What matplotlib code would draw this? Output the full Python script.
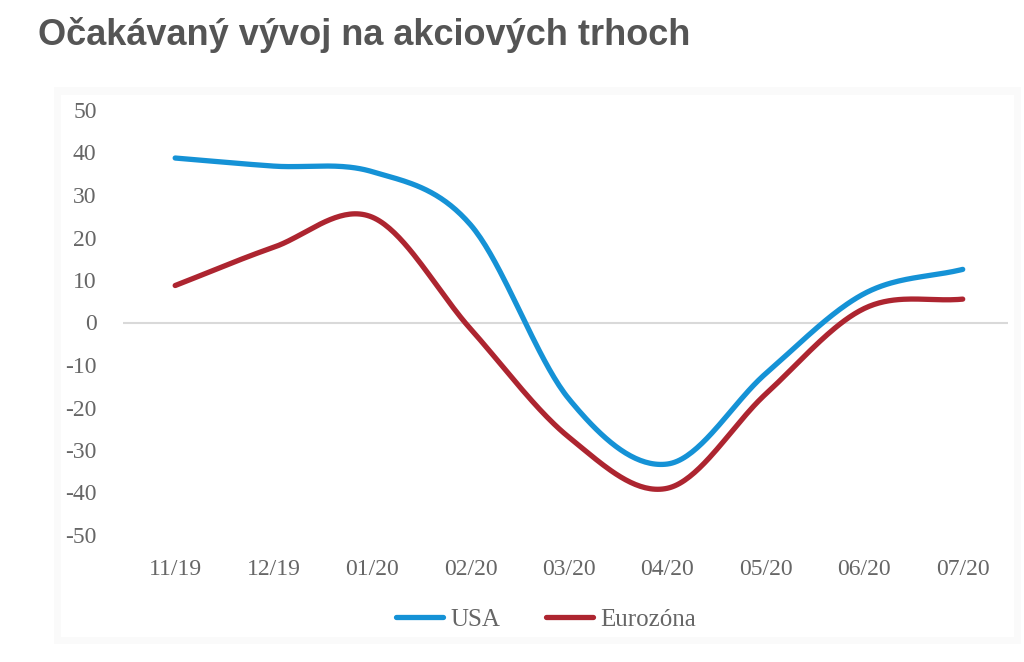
import numpy as np
import matplotlib.pyplot as plt
from matplotlib.patches import Rectangle

plt.rcParams['axes.unicode_minus'] = False

# Data
months = ['11/19', '12/19', '01/20', '02/20', '03/20', '04/20', '05/20', '06/20', '07/20']
usa = [38.7, 36.8, 35.5, 23.0, -18.0, -33.3, -12.0, 6.8, 12.5]
eurozone = [8.7, 17.7, 24.8, -1.5, -27.0, -39.0, -16.8, 3.3, 5.5]

blue = '#1592d6'
red = '#ad2530'
text_gray = '#666666'


def smooth(y, n=40):
    # Catmull-Rom curve through the points, like Excel's smoothed line
    y = np.asarray(y, dtype=float)
    x = np.arange(len(y), dtype=float)
    px = np.concatenate([[2 * x[0] - x[1]], x, [2 * x[-1] - x[-2]]])
    py = np.concatenate([[2 * y[0] - y[1]], y, [2 * y[-1] - y[-2]]])
    xs, ys = [], []
    t = np.linspace(0, 1, n, endpoint=False)
    for i in range(1, len(px) - 2):
        for arr, out in ((px, xs), (py, ys)):
            p0, p1, p2, p3 = arr[i - 1], arr[i], arr[i + 1], arr[i + 2]
            out.append(0.5 * (2 * p1 + (-p0 + p2) * t
                              + (2 * p0 - 5 * p1 + 4 * p2 - p3) * t ** 2
                              + (-p0 + 3 * p1 - 3 * p2 + p3) * t ** 3))
    xs.append([x[-1]])
    ys.append([y[-1]])
    return np.concatenate(xs), np.concatenate(ys)


fig = plt.figure(figsize=(10.24, 6.62), dpi=100)
W, H = 1024, 662

# faint panel behind the chart
fig.patches.append(Rectangle((54 / W, 1 - 644 / H), 967 / W, 557 / H,
                             transform=fig.transFigure, facecolor='#fafafa',
                             edgecolor='none', zorder=-2))
fig.patches.append(Rectangle((61 / W, 1 - 637 / H), 953 / W, 542 / H,
                             transform=fig.transFigure, facecolor='white',
                             edgecolor='none', zorder=-1))

ax = fig.add_axes([123 / W, 1 - 535 / H, 885 / W, 425 / H])
ax.set_zorder(1)
ax.patch.set_alpha(0)

ax.axhline(0, color='#d9d9d9', lw=1.5, zorder=1)
xs, ys = smooth(usa)
ax.plot(xs, ys, color=blue, lw=3.8, solid_capstyle='round', label='USA', zorder=3)
xs, ys = smooth(eurozone)
ax.plot(xs, ys, color=red, lw=3.8, solid_capstyle='round', label='Eurozóna', zorder=2)

ax.set_xlim(-0.53, 8.46)
ax.set_ylim(-50, 50)
ax.set_yticks(range(-50, 51, 10))
ax.set_xticks(range(len(months)))
ax.set_xticklabels(months)
for s in ax.spines.values():
    s.set_visible(False)
ax.tick_params(length=0, labelsize=17, labelcolor=text_gray)
ax.tick_params(axis='y', pad=19)
ax.tick_params(axis='x', pad=17)
for lab in ax.get_xticklabels() + ax.get_yticklabels():
    lab.set_fontfamily('Liberation Serif')

leg = ax.legend(loc='upper center', bbox_to_anchor=(0.478, -0.12), ncol=2,
                frameon=False, handlelength=1.9, handletextpad=0.3,
                columnspacing=1.8, prop={'family': 'Liberation Serif', 'size': 18})
for t in leg.get_texts():
    t.set_color(text_gray)

fig.text(38 / W, 1 - 35 / H, 'Očakávaný vývoj na akciových trhoch',
         fontsize=26, fontweight='bold', color='#555555', va='center',
         family=['Liberation Sans', 'DejaVu Sans'])

fig.savefig('out.png', dpi=100)
